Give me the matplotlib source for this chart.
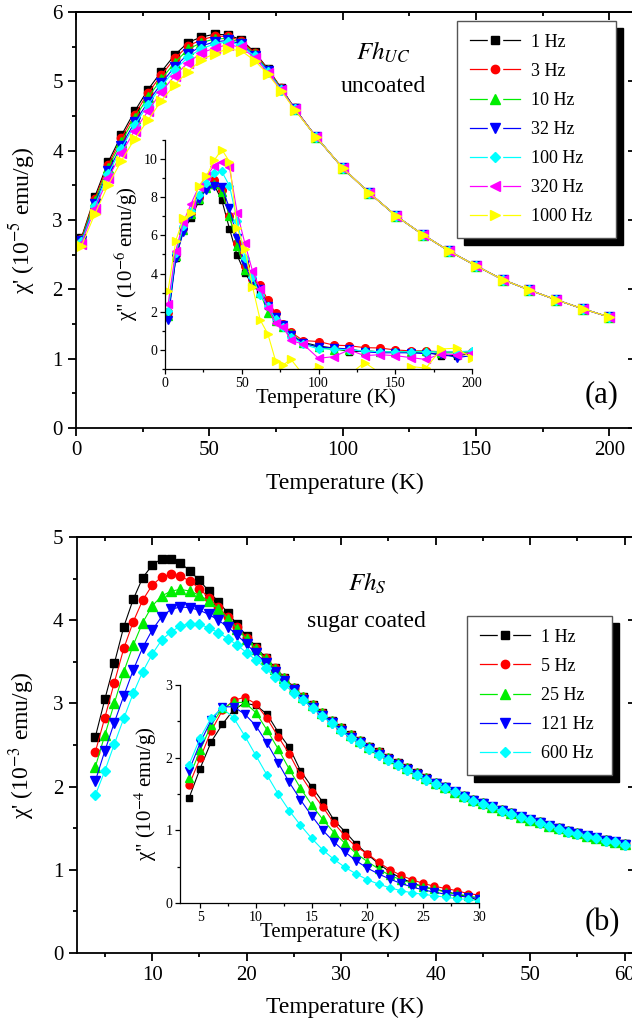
import numpy as np
import matplotlib
matplotlib.use("Agg")
import matplotlib.pyplot as plt
from matplotlib.lines import Line2D
from matplotlib.legend_handler import HandlerTuple
from matplotlib.ticker import MultipleLocator, NullFormatter

plt.rcParams["font.family"] = ["Liberation Serif", "DejaVu Serif"]
plt.rcParams["mathtext.fontset"] = "stix"

W, H = 632, 1023

# ---------------- panel (a): uncoated ----------------
freq_a = ["1 Hz", "3 Hz", "10 Hz", "32 Hz", "100 Hz", "320 Hz", "1000 Hz"]
T_a = [2, 7, 12, 17, 22, 27, 32, 37, 42, 47, 52, 57, 62, 67, 72, 77, 82,
       90, 100, 110, 120, 130, 140, 150, 160, 170, 180, 190, 200]

tail_a = [4.20, 3.75, 3.39, 3.06, 2.79, 2.55, 2.34, 2.14, 1.99, 1.85, 1.72, 1.60]
chi1_a = [
    [2.74, 3.33, 3.83, 4.22, 4.57, 4.88, 5.14, 5.38, 5.56, 5.64, 5.68, 5.67, 5.60, 5.42, 5.18, 4.90, 4.61] + tail_a,
    [2.73, 3.30, 3.79, 4.18, 4.52, 4.83, 5.09, 5.33, 5.51, 5.60, 5.65, 5.65, 5.58, 5.41, 5.17, 4.90, 4.61] + tail_a,
    [2.71, 3.27, 3.75, 4.13, 4.47, 4.77, 5.03, 5.27, 5.46, 5.56, 5.61, 5.62, 5.56, 5.39, 5.16, 4.89, 4.60] + tail_a,
    [2.69, 3.23, 3.70, 4.07, 4.41, 4.70, 4.97, 5.21, 5.39, 5.51, 5.57, 5.59, 5.54, 5.37, 5.15, 4.88, 4.60] + tail_a,
    [2.68, 3.20, 3.66, 4.03, 4.37, 4.66, 4.93, 5.16, 5.35, 5.47, 5.54, 5.57, 5.52, 5.36, 5.14, 4.88, 4.60] + tail_a,
    [2.66, 3.16, 3.60, 3.96, 4.29, 4.57, 4.85, 5.08, 5.27, 5.41, 5.48, 5.53, 5.49, 5.34, 5.12, 4.87, 4.60] + tail_a,
    [2.62, 3.08, 3.50, 3.85, 4.17, 4.44, 4.72, 4.95, 5.14, 5.31, 5.40, 5.47, 5.44, 5.30, 5.10, 4.86, 4.59] + tail_a,
]

chi2_a = [
    [1.8, 4.8, 6.3, 6.9, 7.8, 8.5, 8.65, 7.85, 6.35, 4.95, 4.05, 3.4, 3.0, 2.3, 1.6, 1.2, 0.8,
     0.4, 0.2, 0.1, -0.1, -0.05, -0.1, -0.1, -0.15, -0.1, -0.3, -0.3, -0.2],
    [2.0, 5.0, 6.4, 7.2, 8.0, 8.6, 8.88, 8.4, 7.0, 5.6, 4.4, 3.7, 3.4, 2.6, 1.92, 1.36, 0.93,
     0.49, 0.44, 0.25, 0.22, 0.12, 0.1, 0.0, -0.05, -0.05, -0.1, -0.1, -0.1],
    [1.8, 4.9, 6.3, 7.1, 7.9, 8.5, 8.7, 8.3, 7.0, 5.45, 4.2, 3.6, 3.0, 1.96, 1.5, 1.2, 0.9,
     0.35, 0.15, 0.0, 0.0, -0.05, -0.1, -0.1, -0.1, -0.05, -0.15, -0.15, -0.15],
    [1.55, 4.8, 6.2, 7.1, 7.9, 8.4, 8.6, 8.53, 7.43, 5.86, 4.5, 3.6, 3.2, 2.3, 1.7, 1.3, 0.8,
     0.35, 0.15, 0.1, 0.05, -0.1, -0.15, -0.15, -0.15, -0.2, -0.2, -0.4, -0.3],
    [2.05, 5.1, 6.5, 7.3, 8.1, 8.74, 9.27, 9.35, 8.6, 6.78, 4.84, 3.8, 2.88, 2.3, 1.6, 1.2, 0.7,
     0.3, 0.05, 0.05, 0.0, -0.05, -0.1, -0.1, -0.1, -0.1, -0.1, -0.1, -0.05],
    [2.4, 5.2, 6.7, 7.66, 8.55, 9.1, 9.65, 9.87, 9.56, 7.2, 5.6, 4.14, 3.2, 2.2, 1.4, 1.2, 0.5,
     0.3, -0.44, -0.35, 0.0, -0.3, -0.25, -0.3, -0.4, -0.5, -0.2, -0.25, -0.15],
    [3.11, 5.72, 6.9, 7.2, 8.6, 9.1, 9.93, 10.5, 9.87, 6.38, 5.3, 3.32, 1.57, 0.84, -0.56, -0.79, -0.49,
     -1.3, -0.87, -1.5, -1.3, -0.66, -1.2, -1.5, -0.87, -0.95, 0.05, 0.09, -0.44],
]

# ---------------- panel (b): sugar coated ----------------
freq_b = ["1 Hz", "5 Hz", "25 Hz", "121 Hz", "600 Hz"]
T_b = list(range(4, 61))

tail_b_hi = [3.08, 2.98, 2.88, 2.79, 2.70, 2.62, 2.55, 2.48, 2.41, 2.34, 2.28, 2.22, 2.16, 2.10,
             2.04, 1.99, 1.94, 1.89, 1.84, 1.80, 1.76, 1.72, 1.68, 1.64, 1.60, 1.57, 1.53, 1.50,
             1.47, 1.44, 1.41, 1.38, 1.36, 1.33, 1.31]
tail_b_lo = [3.04, 2.94, 2.85, 2.76, 2.67, 2.59, 2.52, 2.45, 2.38, 2.32, 2.26, 2.20, 2.14, 2.08,
             2.03, 1.98, 1.93, 1.88, 1.83, 1.79, 1.75, 1.71, 1.67, 1.63, 1.60, 1.56, 1.53, 1.49,
             1.46, 1.43, 1.41, 1.38, 1.35, 1.33, 1.30]
chi1_b = [
    [2.60, 3.05, 3.48, 3.92, 4.25, 4.51, 4.66, 4.74, 4.74, 4.69, 4.59, 4.48, 4.35, 4.22, 4.09,
     3.95, 3.81, 3.68, 3.55, 3.43, 3.31, 3.19] + tail_b_hi,
    [2.42, 2.83, 3.25, 3.66, 3.98, 4.24, 4.42, 4.52, 4.55, 4.53, 4.47, 4.38, 4.27, 4.16, 4.04,
     3.92, 3.79, 3.66, 3.54, 3.42, 3.30, 3.19] + tail_b_hi,
    [2.24, 2.62, 3.00, 3.38, 3.70, 3.97, 4.17, 4.29, 4.35, 4.37, 4.35, 4.30, 4.23, 4.14, 4.02,
     3.90, 3.77, 3.65, 3.53, 3.41, 3.30, 3.18] + tail_b_hi,
    [2.07, 2.43, 2.77, 3.09, 3.40, 3.67, 3.88, 4.04, 4.13, 4.16, 4.15, 4.12, 4.07, 4.00, 3.92,
     3.82, 3.71, 3.60, 3.49, 3.38, 3.27, 3.16] + tail_b_lo,
    [1.90, 2.19, 2.51, 2.82, 3.12, 3.38, 3.59, 3.76, 3.86, 3.93, 3.96, 3.95, 3.91, 3.85, 3.78,
     3.70, 3.61, 3.52, 3.42, 3.32, 3.22, 3.13] + tail_b_lo,
]

T_bi = list(range(4, 31))
chi2_b = [
    [1.44, 1.85, 2.22, 2.46, 2.66, 2.75, 2.72, 2.60, 2.35, 2.14, 1.82, 1.60, 1.39, 1.14, 0.98,
     0.81, 0.67, 0.54, 0.43, 0.34, 0.28, 0.22, 0.19, 0.16, 0.12, 0.09, 0.03],
    [1.62, 1.99, 2.37, 2.65, 2.79, 2.83, 2.74, 2.54, 2.29, 2.05, 1.76, 1.53, 1.32, 1.10, 0.92,
     0.77, 0.68, 0.56, 0.46, 0.38, 0.32, 0.27, 0.23, 0.20, 0.17, 0.13, 0.11],
    [1.72, 2.10, 2.45, 2.68, 2.76, 2.76, 2.62, 2.38, 2.12, 1.84, 1.58, 1.35, 1.15, 0.97, 0.82,
     0.68, 0.57, 0.47, 0.38, 0.32, 0.27, 0.22, 0.19, 0.15, 0.12, 0.10, 0.07],
    [1.82, 2.20, 2.52, 2.70, 2.70, 2.60, 2.44, 2.20, 1.93, 1.66, 1.42, 1.20, 1.00, 0.84, 0.70,
     0.58, 0.48, 0.40, 0.33, 0.27, 0.22, 0.18, 0.15, 0.12, 0.10, 0.08, 0.06],
    [1.90, 2.27, 2.55, 2.68, 2.55, 2.30, 2.03, 1.76, 1.50, 1.27, 1.07, 0.89, 0.73, 0.60, 0.49,
     0.40, 0.32, 0.26, 0.21, 0.17, 0.14, 0.12, 0.10, 0.08, 0.06, 0.05, 0.03],
]

colors = ["#000000", "#ff0000", "#00ee00", "#0000ff", "#00ffff", "#ff00ff", "#ffff00"]
markers = ["s", "o", "^", "v", "D", "<", ">"]
msize = {"s": 5.5, "o": 6.0, "^": 6.5, "v": 6.5, "D": 5.0, "<": 6.5, ">": 6.5}


def frac(x0, y0, x1, y1):
    return [x0 / W, 1 - y1 / H, (x1 - x0) / W, (y1 - y0) / H]


def style(ax, xmaj, xmin, ymaj, ymin, main=True):
    ax.xaxis.set_major_locator(MultipleLocator(xmaj))
    ax.xaxis.set_minor_locator(MultipleLocator(xmin))
    ax.yaxis.set_major_locator(MultipleLocator(ymaj))
    ax.yaxis.set_minor_locator(MultipleLocator(ymin))
    if main:
        lw, big, small, ls = 1.3, 5.5, 3.0, 15
    else:
        lw, big, small, ls = 0.9, 3.5, 2.0, 10
    for sp in ax.spines.values():
        sp.set_linewidth(lw)
    ax.tick_params(which="both", direction="out", width=lw, labelsize=ls,
                   top=False, right=False)
    ax.tick_params(which="major", length=big, pad=4 if main else 2)
    ax.tick_params(which="minor", length=small)
    if main:
        for loc in ("top", "right"):
            if loc == "top":
                sec = ax.secondary_xaxis("top")
                axis = sec.xaxis
                maj, mnr = xmaj, xmin
            else:
                sec = ax.secondary_yaxis("right")
                axis = sec.yaxis
                maj, mnr = ymaj, ymin
            axis.set_major_locator(MultipleLocator(maj))
            axis.set_minor_locator(MultipleLocator(mnr))
            axis.set_major_formatter(NullFormatter())
            sec.tick_params(which="both", direction="in", width=lw)
            sec.tick_params(which="major", length=big)
            sec.tick_params(which="minor", length=small)
            for sp in sec.spines.values():
                sp.set_linewidth(lw)
    else:
        ax.spines["top"].set_visible(False)
        ax.spines["right"].set_visible(False)
        ax.set_facecolor("none")


def put_labels(ax, xl, yl, xpix, ypix, x0, y0, x1, y1, size):
    ax.set_xlabel(xl, fontsize=size)
    ax.set_ylabel(yl, fontsize=size)
    ax.xaxis.set_label_coords((xpix[0] - x0) / (x1 - x0), (y1 - xpix[1]) / (y1 - y0))
    ax.yaxis.set_label_coords((ypix[0] - x0) / (x1 - x0), (y1 - ypix[1]) / (y1 - y0))
    ax.xaxis.label.set_va("center")
    ax.yaxis.label.set_va("center")


def leg_handle(c, m):
    return (Line2D([], [], color=c, lw=0.9),
            Line2D([], [], ls="none", marker="s", ms=10, mfc="white", mec="white"),
            Line2D([], [], ls="none", marker=m, ms=msize[m], color=c))


def add_legend(ax, labels, x0, y0, x1):
    handles = [leg_handle(colors[i], markers[i]) for i in range(len(labels))]
    leg = ax.legend(handles, labels, handler_map={tuple: HandlerTuple(ndivide=1, pad=0)},
                    loc="upper left",
                    bbox_to_anchor=(x0 / W, 1 - (y0 + 10) / H, (x1 - x0) / W, 10 / H),
                    mode="expand",
                    bbox_transform=fig.transFigure, borderaxespad=0, fontsize=13,
                    handlelength=2.8, handletextpad=0.6, labelspacing=0.67,
                    borderpad=0.7, fancybox=False, framealpha=1, edgecolor="#555555",
                    shadow={"ox": 5, "oy": -5, "facecolor": "black",
                            "edgecolor": "black", "alpha": 1})
    leg.get_frame().set_linewidth(1.0)
    return leg


fig = plt.figure(figsize=(W / 100, H / 100), dpi=100)

# ---- (a) main ----
A = (76, 12, 636, 428)
ax_a = fig.add_axes(frac(*A))
for i in range(len(freq_a)):
    ax_a.plot(T_a, chi1_a[i], color=colors[i], marker=markers[i], ms=msize[markers[i]],
              lw=0.8, label=freq_a[i])
ax_a.set_xlim(0, 210)
ax_a.set_ylim(0, 6)
style(ax_a, 50, 25, 1, 0.5)
put_labels(ax_a, "Temperature (K)", "χ' (10$^{-5}$ emu/g)", (345, 483), (22, 220), *A, 17)
add_legend(ax_a, freq_a, 457, 21, 616)

# ---- (a) inset ----
Ai = (165, 140, 472, 369)
in_a = fig.add_axes(frac(*Ai))
for i in range(len(freq_a)):
    in_a.plot(T_a, chi2_a[i], color=colors[i], marker=markers[i], ms=msize[markers[i]] - 0.5,
              lw=0.8)
in_a.set_xlim(0, 200)
in_a.set_ylim(-1, 11)
style(in_a, 50, 25, 2, 1, main=False)
put_labels(in_a, "Temperature (K)", 'χ" (10$^{-6}$ emu/g)', (326, 398), (126, 254), *Ai, 15)

# ---- (b) main ----
B = (76.5, 537, 636, 953)
ax_b = fig.add_axes(frac(*B))
for i in range(len(freq_b)):
    ax_b.plot(T_b, chi1_b[i], color=colors[i], marker=markers[i], ms=msize[markers[i]],
              lw=0.8, label=freq_b[i])
ax_b.set_xlim(2, 61.2)
ax_b.set_ylim(0, 5)
style(ax_b, 10, 5, 1, 0.5)
put_labels(ax_b, "Temperature (K)", "χ' (10$^{-3}$ emu/g)", (345, 1007), (22, 745), *B, 17)
add_legend(ax_b, freq_b, 467, 616, 612)

# ---- (b) inset ----
Bi = (180, 685, 479, 903)
in_b = fig.add_axes(frac(*Bi))
for i in range(len(freq_b)):
    in_b.plot(T_bi, chi2_b[i], color=colors[i], marker=markers[i], ms=msize[markers[i]] - 1,
              lw=0.8)
in_b.set_xlim(3.2, 30)
in_b.set_ylim(0, 3)
style(in_b, 5, 2.5, 1, 0.5, main=False)
put_labels(in_b, "Temperature (K)", 'χ" (10$^{-4}$ emu/g)', (330, 932), (146, 794), *Bi, 15)

# ---- annotations ----
fig.text(383 / W, 1 - 52 / H, r"$Fh_{UC}$", ha="center", va="center", fontsize=18)
fig.text(383 / W, 1 - 87 / H, "uncoated", ha="center", va="center", fontsize=17)
fig.text(602 / W, 1 - 395 / H, "(a)", ha="center", va="center", fontsize=22)
fig.text(367 / W, 1 - 583 / H, r"$Fh_{S}$", ha="center", va="center", fontsize=18)
fig.text(366 / W, 1 - 622 / H, "sugar coated", ha="center", va="center", fontsize=17)
fig.text(602 / W, 1 - 923 / H, "(b)", ha="center", va="center", fontsize=22)

fig.savefig("out.png", dpi=100)
